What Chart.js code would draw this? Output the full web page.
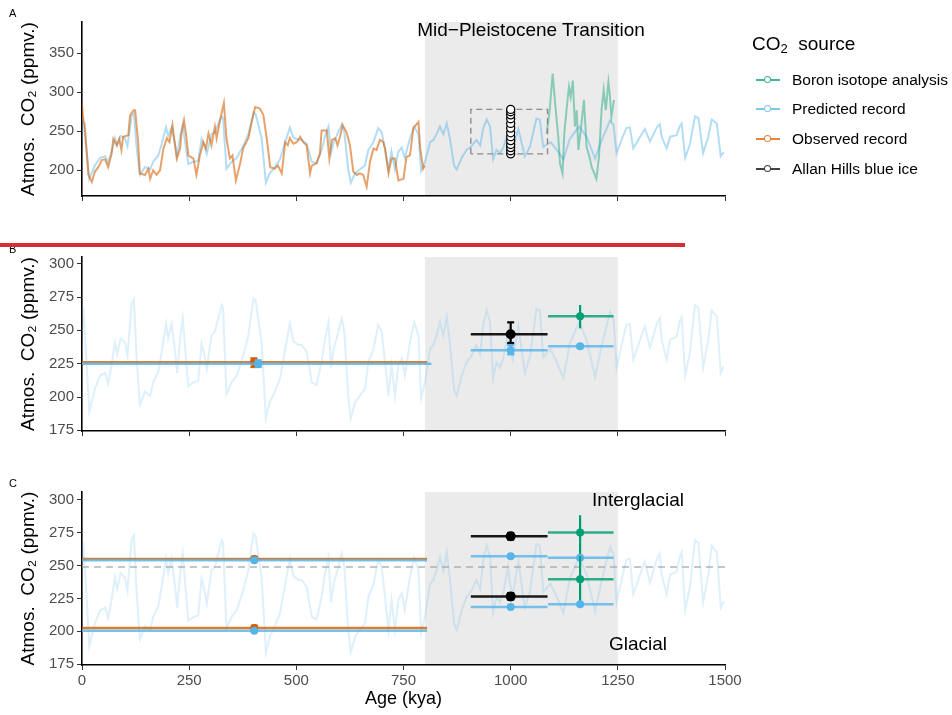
<!DOCTYPE html>
<html>
<head>
<meta charset="utf-8">
<script src="https://cdn.jsdelivr.net/npm/chart.js@4.4.1/dist/chart.umd.min.js"></script>
<style>
  body { margin: 0; background: #fff; font-family: "Liberation Sans", Arial, sans-serif; }
  #wrap { position: relative; width: 952px; height: 715px; overflow: hidden; background: #fff; }
  canvas { position: absolute; left: 0; }
  .txt { position: absolute; color: #000; white-space: nowrap; z-index: 2; }
  .panel { font-size: 11px; line-height: 11px; left: 9px; }
  .leg { position: absolute; left: 756px; height: 20px; line-height: 20px; font-size: 15.5px; padding-left: 36px; white-space: nowrap; z-index: 2; }
  .ico { position: absolute; left: 0; top: 9px; width: 24px; height: 2px; }
  .ico i { position: absolute; left: 8px; top: -3.5px; width: 5px; height: 5px; border-radius: 50%; border: 1.5px solid; background: #fff; }
  #redline { position: absolute; left: 0; top: 243px; width: 685px; height: 4px; background: rgb(212, 47, 52); z-index: 3; }
</style>
</head>
<body>
<div id="wrap">
  <canvas id="chartA" width="760" height="208" style="top:0px"></canvas>
  <canvas id="chartB" width="760" height="198" style="top:245px"></canvas>
  <canvas id="chartC" width="760" height="235" style="top:480px"></canvas>

  <div class="txt panel" style="top:8px">A</div>
  <div class="txt panel" style="top:244px">B</div>
  <div class="txt panel" style="top:478px">C</div>
  <div id="redline"></div>

  <div class="txt" style="left:531px; top:19px; font-size:19px; line-height:22px; transform:translateX(-50%)">Mid&minus;Pleistocene Transition</div>
  <div class="txt" style="left:638px; top:489px; font-size:19px; line-height:22px; transform:translateX(-50%)">Interglacial</div>
  <div class="txt" style="left:638px; top:633px; font-size:19px; line-height:22px; transform:translateX(-50%)">Glacial</div>

  <div class="txt" style="left:752px; top:33px; font-size:19px; line-height:22px">CO<sub style="font-size:13px; vertical-align:-3px">2</sub>&nbsp; source</div>
  <div id="legend"></div>
</div>

<script>
const FONT = '"Liberation Sans", Arial, sans-serif';

// x axis (kya) and y ticks
const ageTicks = [0, 250, 500, 750, 1000, 1250, 1500];
const ticksA = [200, 250, 300, 350];
const ticksBC = [175, 200, 225, 250, 275, 300];
const mptStart = 800;
const mptEnd = 1250;

// predicted record (model)
const predAge = [0, 3, 10, 17, 30, 42, 54, 61, 69, 77,
  82, 90, 100, 106, 116, 121, 127, 135, 147, 159,
  166, 178, 186, 196, 201, 209, 217, 222, 229, 235,
  240, 248, 260, 271, 279, 284, 291, 302, 310, 326,
  329, 337, 349, 361, 376, 388, 400, 405, 419, 429,
  438, 450, 462, 474, 485, 493, 505, 512, 524, 536,
  547, 559, 567, 575, 581, 587, 594, 606, 612, 621,
  627, 637, 648, 660, 668, 680, 691, 699, 707, 715,
  722, 730, 738, 746, 753, 765, 775, 785, 791, 800,
  812, 820, 827, 835, 843, 851, 858, 868, 874, 886,
  897, 909, 920, 929, 936, 944, 952, 959, 967, 975,
  983, 994, 998, 1005, 1018, 1033, 1045, 1060, 1068, 1076,
  1093, 1105, 1123, 1138, 1154, 1160, 1177, 1197, 1212, 1232,
  1240, 1247, 1263, 1270, 1278, 1286, 1302, 1313, 1325, 1341,
  1348, 1352, 1364, 1372, 1387, 1395, 1399, 1407, 1418, 1430,
  1438, 1449, 1461, 1469, 1481, 1490, 1497];
const predCO2 = [265, 266, 230, 189, 206, 216, 218, 210, 224, 241,
  232, 244, 241, 231, 270, 273, 232, 194, 204, 201,
  211, 219, 234, 255, 244, 255, 234, 218, 244, 259,
  239, 208, 211, 212, 240, 234, 221, 246, 249, 269,
  267, 202, 211, 216, 231, 246, 274, 272, 241, 184,
  196, 204, 214, 236, 255, 242, 239, 239, 234, 211,
  209, 226, 244, 256, 222, 236, 244, 259, 249, 201,
  184, 196, 201, 206, 226, 236, 254, 249, 226, 201,
  224, 201, 224, 229, 216, 241, 256, 246, 199, 211,
  236, 239, 246, 256, 246, 260, 241, 206, 201, 216,
  226, 231, 239, 232, 254, 265, 256, 214, 226, 222,
  229, 249, 236, 228, 253, 218, 230, 266, 265, 230,
  236, 228, 214, 240, 252, 256, 243, 215, 238, 264,
  258, 222, 245, 254, 255, 228, 243, 253, 237, 255,
  259, 243, 228, 243, 245, 257, 260, 216, 233, 269,
  267, 222, 243, 265, 260, 218, 223];

// observed ice-core record
const obsAge = [0, 3, 6, 10, 15, 23, 30, 38, 46, 54,
  61, 69, 73, 81, 87, 92, 96, 108, 112, 120,
  124, 131, 135, 147, 155, 159, 166, 174, 182, 190,
  198, 204, 211, 221, 229, 232, 238, 243, 248, 260,
  267, 275, 283, 289, 295, 302, 310, 314, 322, 331,
  337, 345, 351, 359, 369, 376, 388, 396, 404, 415,
  423, 431, 439, 450, 457, 466, 474, 480, 485, 493,
  501, 509, 516, 524, 532, 536, 547, 555, 559, 571,
  577, 583, 591, 596, 602, 608, 617, 625, 633, 641,
  648, 656, 664, 672, 680, 687, 695, 703, 707, 715,
  722, 730, 738, 750, 757, 765, 773, 785, 789, 796,
  800];
const obsCO2 = [285, 262, 260, 230, 194, 185, 198, 204, 213, 214,
  204, 221, 240, 232, 240, 226, 243, 245, 270, 277,
  277, 236, 196, 194, 202, 189, 200, 194, 200, 228,
  241, 236, 258, 215, 228, 247, 264, 245, 219, 215,
  194, 219, 236, 228, 247, 232, 256, 241, 264, 286,
  241, 215, 219, 187, 209, 228, 241, 262, 281, 279,
  271, 241, 204, 202, 206, 196, 236, 232, 241, 234,
  236, 243, 236, 232, 196, 206, 209, 221, 251, 251,
  215, 239, 241, 232, 243, 258, 249, 232, 198, 194,
  196, 194, 179, 211, 228, 226, 239, 236, 228, 196,
  215, 215, 187, 189, 217, 219, 254, 262, 228, 202,
  206];

// boron isotope record
const boronAge = [1084, 1091, 1098, 1103, 1111, 1115, 1121, 1125, 1131, 1136,
  1140, 1145, 1150, 1154, 1158, 1166, 1171, 1177, 1184, 1189,
  1195, 1200, 1206, 1212, 1217, 1222, 1228, 1231, 1235, 1241];
const boronCO2 = [247, 277, 324, 290, 243, 209, 196, 247, 281, 307,
  294, 315, 256, 277, 226, 264, 290, 230, 217, 204,
  196, 189, 217, 277, 303, 277, 313, 298, 269, 290];

// Allan Hills blue ice samples and the window they cover
const allanAge = 1000;
const allanCO2 = [221, 225, 229, 233, 238, 243, 248, 254, 260, 266, 271, 275, 278];
const boxAge = [907, 1086];
const boxCO2 = [221, 278];

// panel B: window means with error bars
const bSource = ['obs', 'pred', 'allan', 'pred', 'boron', 'pred'];
const bFrom = [0, 0, 907, 907, 1087, 1087];
const bTo = [805, 815, 1086, 1086, 1240, 1240];
const bAt = [401, 411, 1000, 1000, 1162, 1162];
const bMean = [226, 225, 247, 235, 260.5, 238];
const bLow = [222.5, 222.5, 240.5, 232, 251.5, 237];
const bHigh = [229, 227.5, 256, 239, 269, 239];

// panel C: interglacial / glacial means
const cSource = ['obs', 'pred', 'obs', 'pred', 'allan', 'pred', 'allan', 'pred', 'boron', 'pred', 'boron', 'pred'];
const cFrom = [0, 0, 0, 0, 907, 907, 907, 907, 1087, 1087, 1087, 1087];
const cTo = [805, 805, 805, 805, 1086, 1086, 1086, 1086, 1240, 1240, 1240, 1240];
const cAt = [402, 402, 402, 402, 1000, 1000, 1000, 1000, 1162, 1162, 1162, 1162];
const cMean = [254.8, 253.8, 202.5, 200.5, 272, 257, 226.5, 218.5, 275, 255.8, 239.4, 220.5];
const cLow = [254, 253.3, 201.7, 200, 269.5, 256.5, 224, 218, 258, 255.3, 221.5, 220];
const cHigh = [256.5, 254.3, 204.3, 201, 274.5, 257.5, 229, 219, 288, 256.3, 257, 221];
const thresholdCO2 = 248.7;

const palette = {
  boron: '0,158,115',
  pred: '86,180,233',
  obs: '213,94,0',
  allan: '0,0,0'
};
const legendOrder = [
  ['boron', 'Boron isotope analysis'],
  ['pred', 'Predicted record'],
  ['obs', 'Observed record'],
  ['allan', 'Allan Hills blue ice']
];
const capped = { boron: false, pred: true, obs: true, allan: true };
const markSize = { boron: 4, pred: 4, obs: 4, allan: 5 };

function rgba(key, a) {
  return `rgba(${palette[key]},${a})`;
}

function pts(xs, ys) {
  return xs.map((x, i) => ({ x: x, y: ys[i] }));
}

function line(data, color, width, extra) {
  return Object.assign({
    data: data,
    borderColor: color,
    borderWidth: width,
    pointRadius: 0,
    tension: 0,
    fill: false
  }, extra || {});
}

// mean line, error bar and point for each summary row
function summaries(src, from, to, at, mean, lo, hi) {
  const out = [];
  src.forEach((s, i) => {
    out.push(line([{ x: from[i], y: mean[i] }, { x: to[i], y: mean[i] }], rgba(s, s === 'allan' ? 0.9 : 0.8), 2.5));
    out.push(line([{ x: at[i], y: lo[i] }, { x: at[i], y: hi[i] }], rgba(s, 1), 2.2, {
      pointStyle: 'line',
      pointRadius: capped[s] ? 3.5 : 0,
      pointBorderColor: rgba(s, 1),
      pointBorderWidth: 2.2
    }));
    out.push({
      data: [{ x: at[i], y: mean[i] }],
      showLine: false,
      pointRadius: markSize[s],
      pointBackgroundColor: rgba(s, 1),
      pointBorderColor: rgba(s, 1),
      pointBorderWidth: 0
    });
  });
  return out;
}

const mptBand = {
  id: 'mptBand',
  beforeDraw(chart) {
    const { ctx, chartArea: a, scales: { x } } = chart;
    const x0 = x.getPixelForValue(mptStart);
    const x1 = x.getPixelForValue(mptEnd);
    ctx.save();
    ctx.fillStyle = '#ebebeb';
    ctx.fillRect(x0, a.top, x1 - x0, a.bottom - a.top);
    ctx.restore();
  }
};

function axes(yMin, yMax, yTicks, showX, xHeight) {
  const grid = { drawOnChartArea: false, drawTicks: true, tickLength: 5, color: '#333', lineWidth: 1 };
  const border = { display: true, color: '#000', width: 1.6 };
  return {
    x: {
      type: 'linear',
      min: 0,
      max: 1500,
      afterBuildTicks: s => { s.ticks = ageTicks.map(v => ({ value: v })); },
      afterFit: s => { s.height = xHeight; },
      grid: grid,
      border: border,
      ticks: { display: showX, color: '#4d4d4d', font: { size: 15, family: FONT }, padding: 2, maxRotation: 0, callback: v => String(v) },
      title: { display: showX, text: 'Age (kya)', color: '#000', font: { size: 18, family: FONT }, padding: { top: 0, bottom: 2 } }
    },
    y: {
      type: 'linear',
      min: yMin,
      max: yMax,
      afterBuildTicks: s => { s.ticks = yTicks.map(v => ({ value: v })); },
      afterFit: s => { s.width = 68; },
      grid: grid,
      border: border,
      ticks: { color: '#4d4d4d', font: { size: 15, family: FONT }, padding: 3, callback: v => String(v) },
      title: { display: true, text: 'Atmos.  CO\u2082 (ppmv.)', color: '#000', font: { size: 19, family: FONT }, padding: { top: 3, bottom: 0 } }
    }
  };
}

function makeChart(id, datasets, scales, padding) {
  // first dataset is drawn on top in Chart.js, so reverse the bottom-to-top list
  return new Chart(document.getElementById(id), {
    type: 'line',
    data: { datasets: datasets.slice().reverse() },
    options: {
      responsive: false,
      animation: false,
      events: [],
      layout: { padding: padding },
      scales: scales,
      plugins: { legend: { display: false }, tooltip: { enabled: false } }
    },
    plugins: [mptBand]
  });
}

// Panel A
const boxPts = [
  { x: boxAge[0], y: boxCO2[0] }, { x: boxAge[0], y: boxCO2[1] },
  { x: boxAge[1], y: boxCO2[1] }, { x: boxAge[1], y: boxCO2[0] },
  { x: boxAge[0], y: boxCO2[0] }
];
makeChart('chartA', [
  line(pts(predAge, predCO2), rgba('pred', 0.45), 2),
  line(pts(obsAge, obsCO2), rgba('obs', 0.58), 2),
  line(pts(boronAge, boronCO2), rgba('boron', 0.42), 2),
  line(boxPts, 'rgba(130,130,130,0.9)', 1.4, { borderDash: [6, 4] }),
  {
    data: allanCO2.map(v => ({ x: allanAge, y: v })),
    showLine: false,
    pointRadius: 4,
    pointBorderWidth: 1.3,
    pointBorderColor: '#000',
    pointBackgroundColor: '#fff'
  }
], axes(167, 390, ticksA, false, 6), { left: 14, right: 35, top: 22, bottom: 6 });

// Panel B
makeChart('chartB', [
  line(pts(predAge, predCO2), rgba('pred', 0.2), 2)
].concat(summaries(bSource, bFrom, bTo, bAt, bMean, bLow, bHigh)),
  axes(174.5, 305, ticksBC, false, 6), { left: 14, right: 35, top: 12, bottom: 6 });

// Panel C
makeChart('chartC', [
  line(pts(predAge, predCO2), rgba('pred', 0.2), 2),
  line([{ x: 0, y: thresholdCO2 }, { x: 1500, y: thresholdCO2 }], 'rgba(160,160,160,0.8)', 1.5, { borderDash: [7, 5] })
].concat(summaries(cSource, cFrom, cTo, cAt, cMean, cLow, cHigh)),
  axes(174.5, 305.6, ticksBC, true, 47), { left: 14, right: 35, top: 12, bottom: 3 });

// legend
const legendBox = document.getElementById('legend');
const legendTops = [70, 99, 129, 159];
legendOrder.forEach((entry, i) => {
  const key = entry[0];
  const row = document.createElement('div');
  row.className = 'leg';
  row.style.top = legendTops[i] + 'px';
  const ico = document.createElement('span');
  ico.className = 'ico';
  ico.style.background = rgba(key, 0.75);
  const dot = document.createElement('i');
  dot.style.borderColor = rgba(key, 0.75);
  ico.appendChild(dot);
  row.appendChild(ico);
  row.appendChild(document.createTextNode(entry[1]));
  legendBox.appendChild(row);
});
</script>
</body>
</html>
